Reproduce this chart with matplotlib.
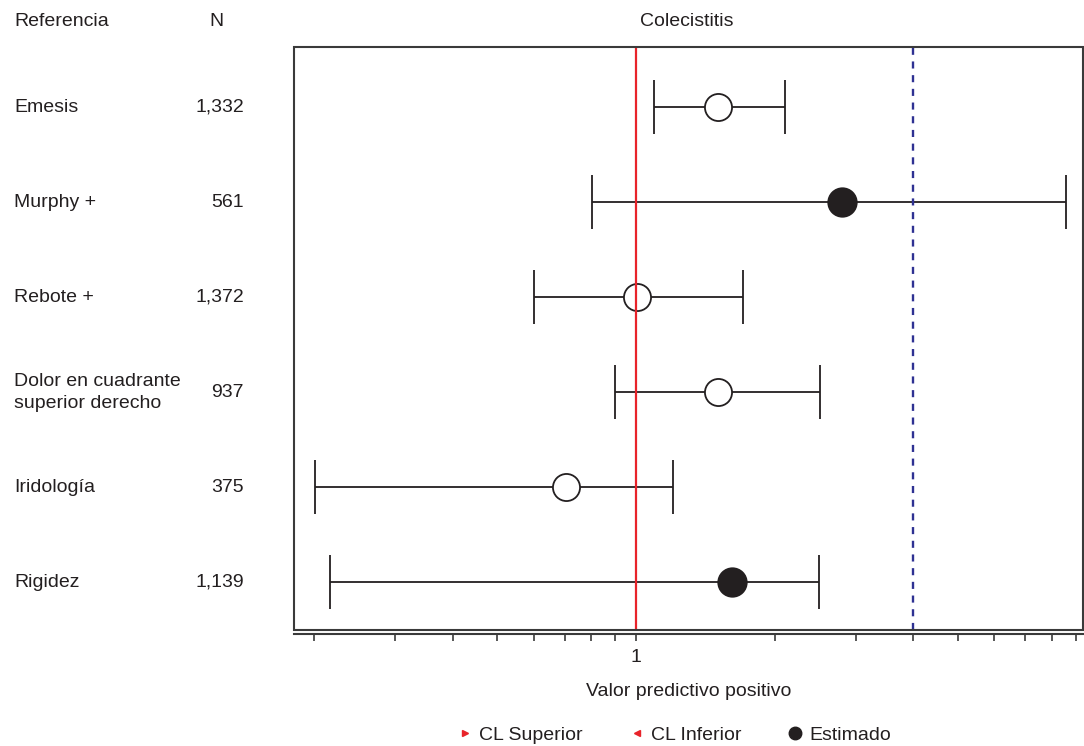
import matplotlib
matplotlib.use("Agg")
import matplotlib.pyplot as plt
from matplotlib.lines import Line2D
from matplotlib.patches import Rectangle
import matplotlib.transforms as mtransforms

plt.rcParams['font.family'] = ['Liberation Sans', 'DejaVu Sans']

referencias = ["Emesis", "Murphy +", "Rebote +", "Dolor en cuadrante\nsuperior derecho", "Iridología", "Rigidez"]
n_values = ["1,332", "561", "1,372", "937", "375", "1,139"]
estimado = [1.509, 2.797, 1.005, 1.509, 0.706, 1.614]
cl_inferior = [1.094, 0.803, 0.601, 0.900, 0.201, 0.217]
cl_superior = [2.11, 8.58, 1.71, 2.506, 1.203, 2.50]
relleno = [False, True, False, False, False, True]
ref_line = 1.0
umbral = 4.0
tick_vals = [0.2, 0.3, 0.4, 0.5, 0.6, 0.7, 0.8, 0.9, 1, 2, 3, 4, 5, 6, 7, 8, 9]

W, H = 1084, 746
fig = plt.figure(figsize=(W / 100, H / 100), dpi=100)
ax = fig.add_axes([293.7 / W, 1 - 630 / H, (1083 - 293.7) / W, (630 - 47.3) / H])

ax.set_xscale('log')
ax.set_xlim(0.1806, 9.34)
ax.set_ylim(5.5, -0.632)

dark = '#231f20'
for i in range(len(referencias)):
    e = estimado[i]
    ax.errorbar([e], [i], xerr=[[e - cl_inferior[i]], [cl_superior[i] - e]],
                fmt='none', ecolor=dark, elinewidth=1.3, capsize=19.4, capthick=1.3, zorder=2)
    ax.plot([e], [i], 'o', ms=19.5 if not relleno[i] else 20.5,
            mfc=dark if relleno[i] else 'white', mec=dark, mew=1.3, zorder=3)

ax.axvline(ref_line, color='#e8232a', lw=1.6, zorder=4)
ax.axvline(umbral, color='#2e3192', lw=1.7, dashes=(3.0, 2.8), zorder=4)

# box
for s in ['top', 'left', 'right']:
    ax.spines[s].set_visible(False)
ax.add_patch(Rectangle((0, 0), 1, 1, transform=ax.transAxes, fill=False,
                       ec='#3a3a3a', lw=1.5, clip_on=False, zorder=5))
ax.spines['bottom'].set_position(('outward', 3))
ax.spines['bottom'].set_linewidth(1.5)
ax.spines['bottom'].set_color('#3a3a3a')

ax.set_yticks([])
ax.set_xticks(tick_vals)
ax.set_xticks([], minor=True)
ax.set_xticklabels(['1' if v == 1 else '' for v in tick_vals])
ax.tick_params(axis='x', which='major', length=5, width=1.2, color='#3a3a3a',
               labelsize=14, pad=6, labelcolor='#231f20')
ax.set_xlabel('Valor predictivo positivo', fontsize=14, color='#231f20', labelpad=12)

# header texts
fig.text(14 / W, 1 - 21 / H, 'Referencia', fontsize=14, ha='left', va='center', color='#231f20')
fig.text(216 / W, 1 - 21 / H, 'N', fontsize=14, ha='center', va='center', color='#231f20')
fig.text(687 / W, 1 - 21 / H, 'Colecistitis', fontsize=14, ha='center', va='center', color='#231f20')

trans = mtransforms.blended_transform_factory(fig.transFigure, ax.transData)
for i, (r, n) in enumerate(zip(referencias, n_values)):
    ax.text(14 / W, i, r, transform=trans, fontsize=14, ha='left', va='center',
            color='#231f20', linespacing=1.35)
    ax.text(244 / W, i, n, transform=trans, fontsize=14, ha='right', va='center', color='#231f20')

handles = [
    Line2D([], [], ls='none', marker='>', color='#e8232a', ms=5),
    Line2D([], [], ls='none', marker='<', color='#e8232a', ms=5),
    Line2D([], [], ls='none', marker='o', color=dark, ms=9),
]
fig.legend(handles, ['CL Superior', 'CL Inferior', 'Estimado'], ncol=3, loc='center',
           bbox_to_anchor=(0.621, 1 - 735 / H), frameon=False, fontsize=14,
           handletextpad=0.2, columnspacing=2.3, handlelength=1.0, labelcolor='#231f20')

fig.savefig('out.png', dpi=100)
